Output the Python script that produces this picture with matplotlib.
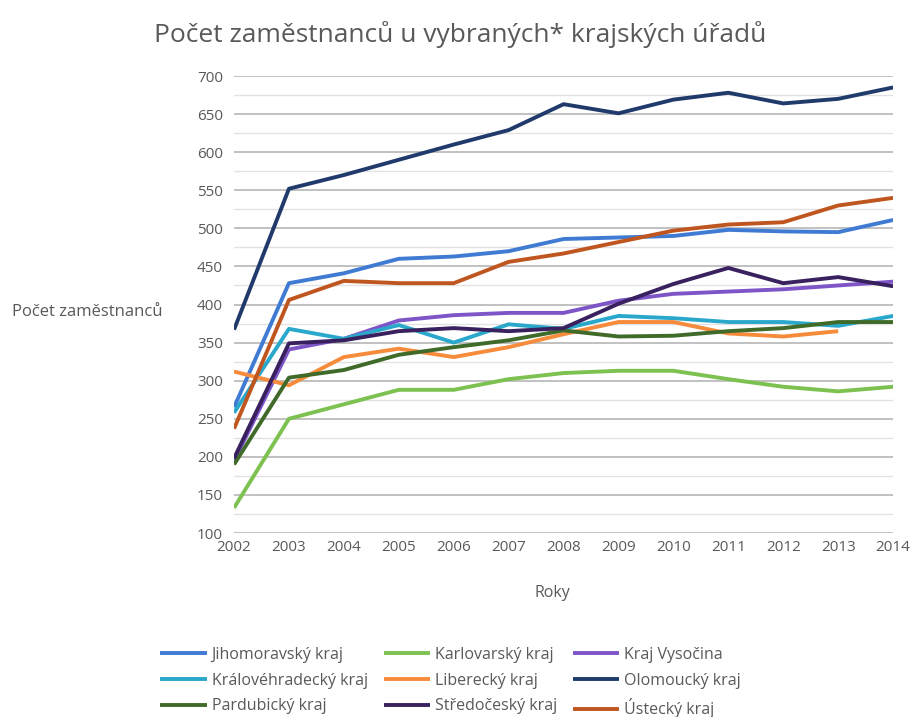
import matplotlib
matplotlib.use("Agg")
import matplotlib.pyplot as plt
from matplotlib.ticker import MultipleLocator

plt.rcParams['font.family'] = ['Open Sans', 'DejaVu Sans']

years = list(range(2002, 2015))

jihomoravsky = [265, 428, 441, 460, 463, 470, 486, 488, 490, 498, 496, 495, 511]
karlovarsky = [133, 250, 269, 288, 288, 302, 310, 313, 313, 302, 292, 286, 292]
vysocina = [195, 341, 355, 379, 386, 389, 389, 405, 414, 417, 420, 425, 430]
kralovehradecky = [258, 368, 355, 373, 350, 374, 368, 385, 382, 377, 377, 372, 385]
liberecky = [312, 294, 331, 342, 331, 344, 361, 377, 377, 362, 358, 365, None]
olomoucky = [367, 552, 570, 590, 610, 629, 663, 651, 669, 678, 664, 670, 685]
pardubicky = [190, 304, 314, 334, 344, 353, 366, 358, 359, 365, 369, 377, 377]
stredocesky = [198, 349, 353, 365, 369, 365, 369, 401, 427, 448, 428, 436, 424]
ustecky = [237, 406, 431, 428, 428, 456, 467, 482, 497, 505, 508, 530, 540]

series = [
    ("Jihomoravský kraj", jihomoravsky, "#3f7bd3"),
    ("Karlovarský kraj", karlovarsky, "#7dc151"),
    ("Kraj Vysočina", vysocina, "#7d55c7"),
    ("Královéhradecký kraj", kralovehradecky, "#2aa8cc"),
    ("Liberecký kraj", liberecky, "#f68b3b"),
    ("Olomoucký kraj", olomoucky, "#203a6b"),
    ("Pardubický kraj", pardubicky, "#406a29"),
    ("Středočeský kraj", stredocesky, "#38215e"),
    ("Ústecký kraj", ustecky, "#c0561f"),
]

text_color = "#595959"

fig = plt.figure(figsize=(9.16, 7.17), dpi=100)
ax = fig.add_axes([0.2555, 0.2566, 0.7195, 0.6374])

handles = []
for name, vals, col in series:
    xs = [y for y, v in zip(years, vals) if v is not None]
    vs = [v for v in vals if v is not None]
    h, = ax.plot(xs, vs, color=col, lw=2.8, label=name, solid_capstyle='butt', zorder=3)
    handles.append(h)

ax.set_xlim(2002, 2014)
ax.set_ylim(100, 700)
ax.set_xticks(years)
ax.yaxis.set_major_locator(MultipleLocator(50))
ax.yaxis.set_minor_locator(MultipleLocator(25))
ax.grid(True, which='major', axis='y', color='#bcbcbc', lw=1.3, zorder=0)
ax.grid(True, which='minor', axis='y', color='#e2e2e2', lw=1.0, zorder=0)
for s in ax.spines.values():
    s.set_visible(False)
ax.tick_params(axis='both', which='both', length=0, labelsize=11, labelcolor=text_color)
ax.tick_params(axis='x', pad=5)
ax.tick_params(axis='y', pad=8)

fig.text(0.502, 0.952, "Počet zaměstnanců u vybraných* krajských úřadů",
         ha='center', va='center', fontsize=19, color=text_color)
fig.text(0.013, 0.565, "Počet zaměstnanců", ha='left', va='center',
         fontsize=12, color=text_color)
fig.text(0.603, 0.173, "Roky", ha='center', va='center', fontsize=11.5, color=text_color)

# row-major legend order for 3 columns
order = [0, 3, 6, 1, 4, 7, 2, 5, 8]
leg = fig.legend([handles[i] for i in order], [series[i][0] for i in order],
                 loc='center', bbox_to_anchor=(0.492, 0.048), ncol=3, frameon=False,
                 fontsize=11.5, handlelength=2.9, columnspacing=1.0,
                 labelspacing=0.6, handletextpad=0.3)
for t in leg.get_texts():
    t.set_color(text_color)

fig.savefig("out.png", dpi=100, facecolor='white')
